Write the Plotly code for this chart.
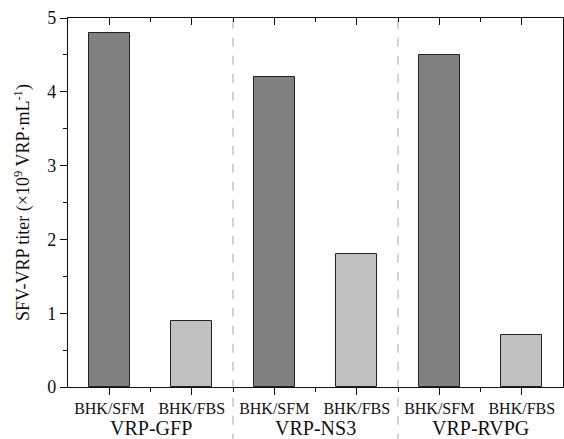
import plotly.graph_objects as go

categories = ["BHK/SFM", "BHK/FBS", "BHK/SFM", "BHK/FBS", "BHK/SFM", "BHK/FBS"]
groups = ["VRP-GFP", "VRP-NS3", "VRP-RVPG"]
values = [4.8, 0.9, 4.2, 1.8, 4.5, 0.7]
colors = ["#808080", "#c0c0c0", "#808080", "#c0c0c0", "#808080", "#c0c0c0"]

xpos = list(range(len(categories)))
font_family = "Liberation Serif"

fig = go.Figure()
fig.add_trace(go.Bar(
    x=xpos, y=values, width=0.5,
    marker=dict(color=colors, line=dict(color="#222222", width=1)),
    showlegend=False,
))
# top mirror axis with inward ticks
fig.add_trace(go.Scatter(x=[0], y=[0], xaxis="x2", mode="markers",
                         marker=dict(opacity=0), showlegend=False, hoverinfo="skip"))

for b in [1.5, 3.5]:
    fig.add_shape(type="line", xref="x", yref="paper", x0=b, x1=b, y0=-0.2, y1=1,
                  line=dict(color="#b5b5b5", width=1.2, dash="dash"), layer="below")

for i, g in enumerate(groups):
    fig.add_annotation(x=2 * i + 0.5, y=-0.11, xref="x", yref="paper",
                       text=g, showarrow=False, yanchor="middle",
                       font=dict(family=font_family, size=20, color="#111111"))

fig.update_layout(
    width=564, height=439,
    margin=dict(l=68, r=1, t=18, b=52),
    plot_bgcolor="white", paper_bgcolor="white",
    bargap=0,
    xaxis=dict(
        range=[-0.5, 5.5], tickmode="array", tickvals=xpos, ticktext=categories,
        showline=True, linecolor="#111111", linewidth=1.2,
        ticks="outside", ticklen=7, tickcolor="#111111", tickwidth=1.2,
        minor=dict(tickvals=[0.5, 1.5, 2.5, 3.5, 4.5], ticks="outside", ticklen=4,
                   tickcolor="#111111", tickwidth=1.2),
        tickfont=dict(family=font_family, size=16, color="#111111"),
        showgrid=False, zeroline=False, fixedrange=True,
    ),
    xaxis2=dict(
        overlaying="x", side="top", matches="x",
        tickmode="array", tickvals=xpos, showticklabels=False,
        showline=True, linecolor="#111111", linewidth=1.2,
        ticks="inside", ticklen=7, tickcolor="#111111", tickwidth=1.2,
        minor=dict(tickvals=[0.5, 1.5, 2.5, 3.5, 4.5], ticks="inside", ticklen=4,
                   tickcolor="#111111", tickwidth=1.2),
        showgrid=False, zeroline=False,
    ),
    yaxis=dict(
        range=[0, 5], tickvals=[0, 1, 2, 3, 4, 5],
        showline=True, linecolor="#111111", linewidth=1.2, mirror=True,
        ticks="outside", ticklen=7, tickcolor="#111111", tickwidth=1.2,
        minor=dict(dtick=0.5, ticks="outside", ticklen=4, tickcolor="#111111", tickwidth=1.2),
        tickfont=dict(family=font_family, size=18, color="#111111"),
        title=dict(text="SFV-VRP titer (×10<sup>9</sup> VRP·mL<sup>-1</sup>)", standoff=12,
                   font=dict(family=font_family, size=18, color="#111111")),
        showgrid=False, zeroline=False,
    ),
)

fig.write_html("out.html")
